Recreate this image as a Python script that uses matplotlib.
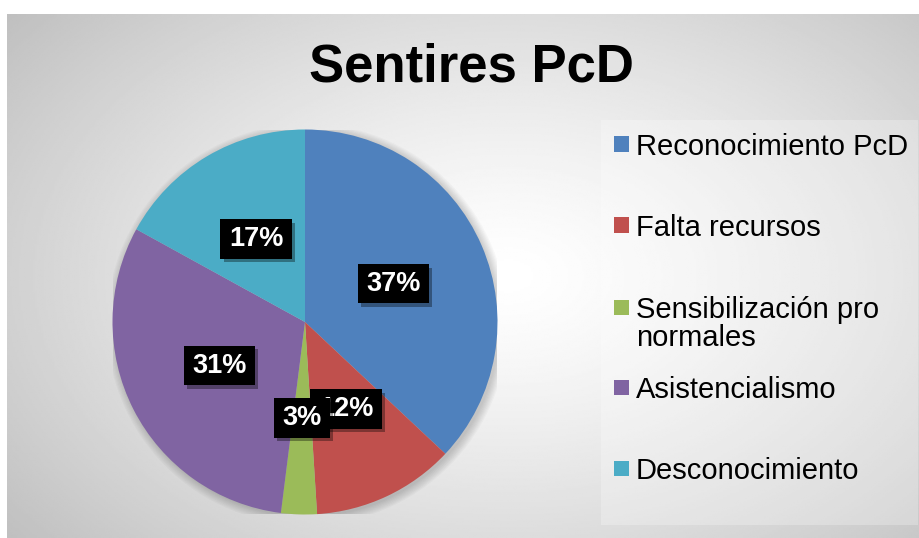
import numpy as np
import matplotlib
matplotlib.use('Agg')
import matplotlib.pyplot as plt
import matplotlib.patheffects as pe
from matplotlib.patches import Rectangle

plt.rcParams['font.family'] = ['Liberation Sans', 'DejaVu Sans']

# data
categories = ['Reconocimiento PcD', 'Falta recursos', 'Sensibilización pro\nnormales',
              'Asistencialismo', 'Desconocimiento']
values = [37, 12, 3, 31, 17]
colors = ['#4F81BD', '#C0504D', '#9BBB59', '#8064A2', '#4BACC6']

W, H = 919, 538
fig = plt.figure(figsize=(W / 100, H / 100), dpi=100)
fig.patch.set_facecolor('white')

# gray radial background of the chart area
bg = fig.add_axes([7 / W, 0, (W - 7) / W, (H - 14) / H])
yy, xx = np.mgrid[0:1:300j, 0:1:500j]
d = np.sqrt(((xx - 0.55) / 0.75) ** 2 + ((yy - 0.5) / 0.85) ** 2)
shade = 1 - 0.27 * np.clip(d, 0, 1) ** 1.3
bg.imshow(shade, cmap='gray', vmin=0, vmax=1, extent=[0, 1, 0, 1], aspect='auto')
bg.axis('off')

# pie
R = 192.5
cx, cy = 305, 322
ax = fig.add_axes([(cx - R) / W, (H - cy - R) / H, 2 * R / W, 2 * R / H])
# soft halo behind the pie
for k in range(8):
    ax.add_patch(plt.Circle((0.012, -0.012), 1.0 + 0.006 * k, color='black',
                            alpha=0.025, zorder=0, lw=0))
wedges, texts, autotexts = ax.pie(values, colors=colors, startangle=90, counterclock=False,
                                  autopct='%1.0f%%', pctdistance=0.5, radius=1,
                                  wedgeprops=dict(linewidth=0))
for w in wedges:
    w.set_zorder(2)
for t in autotexts:
    t.set_color('white')
    t.set_fontsize(19.5)
    t.set_fontweight('bold')
    t.set_zorder(5)
    t.set_bbox(dict(boxstyle='square,pad=0.31', facecolor='black', edgecolor='none',
                    mutation_aspect=0.8))
    t.get_bbox_patch().set_path_effects([pe.SimplePatchShadow(offset=(2.5, -2.5), alpha=0.35),
                                         pe.Normal()])
ax.set_xlim(-1, 1)
ax.set_ylim(-1, 1)
ax.set_aspect('equal')
ax.axis('off')

# title
fig.text(471 / W, 1 - 68 / H, 'Sentires PcD', fontsize=38, fontweight='bold',
         ha='center', va='center', color='black')

# legend panel
fig.patches.append(Rectangle((601 / W, 1 - 525 / H), (918 - 601) / W, (525 - 120) / H,
                             transform=fig.transFigure, facecolor='white', alpha=0.25,
                             edgecolor='none', zorder=1))
row_y = [144, 225, 307, 387, 468]
for name, col, y in zip(categories, colors, row_y):
    fig.patches.append(Rectangle((614 / W, 1 - (y + 7.5) / H), 15 / W, 15 / H,
                                 transform=fig.transFigure, facecolor=col,
                                 edgecolor='none', zorder=2))
    fig.text(636 / W, 1 - (y - 11) / H, name, fontsize=21, ha='left', va='top',
             linespacing=1.0, color='black', zorder=3)

fig.savefig('out.png', dpi=100)
